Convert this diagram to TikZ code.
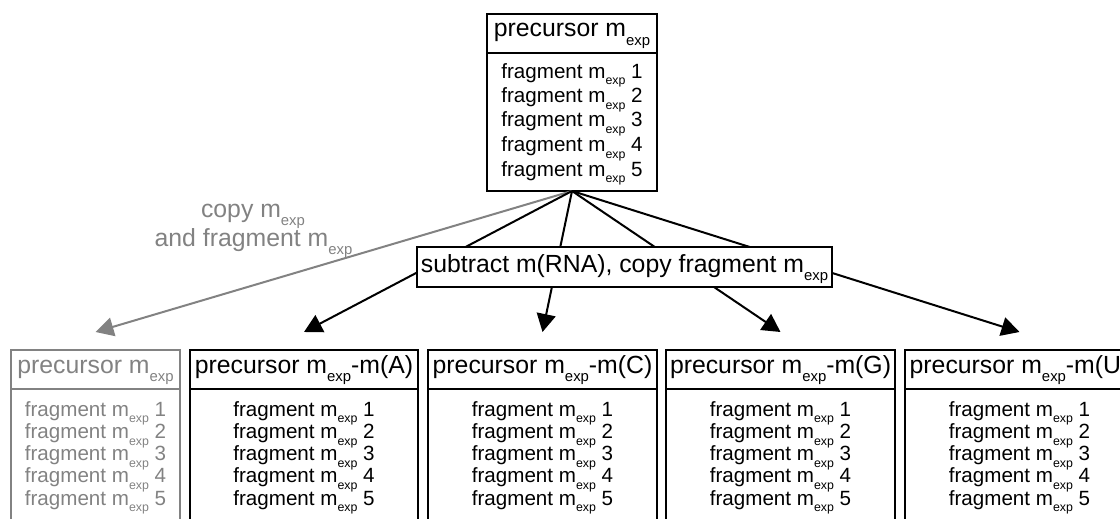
\documentclass[tikz,border=0pt]{standalone}
\usepackage{fontspec}
\setmainfont{Liberation Sans}
\usepackage{graphicx}
\usetikzlibrary{arrows.meta,calc}

\definecolor{copygrey}{RGB}{130,130,130}
% lowered, reduced "exp" index
\newcommand\expsub{\raisebox{-0.33em}{\scalebox{0.6}{exp}}}

\tikzset{
  box/.style={draw, line width=2pt, inner sep=0pt, outer sep=0pt},
  rule/.style={line width=1.5pt},
  headtext/.style={font=\fontsize{24.8}{28}\selectfont, anchor=base, inner sep=0pt},
  fragtext/.style={font=\fontsize{20.6}{24}\selectfont, anchor=base, inner sep=0pt},
  link/.style={line width=2pt, -{Triangle[length=18pt,width=19pt]}},
}

\begin{document}
\begin{tikzpicture}[x=1pt,y=-1pt]
\clip (0,0) rectangle (1120,519);
\useasboundingbox (0,0) rectangle (1120,519);

% source spectrum
\node[box, minimum width=170pt, minimum height=177pt] (top) at (572,102.5) {};
\draw[rule] ($(top.north west)+(0,39)$) -- ($(top.north east)+(0,39)$);
\node[headtext] (tophead) at (572,37) {precursor m\expsub};
\foreach \i/\y in {1/78,2/102.5,3/127,4/151.5,5/176}
  \node[fragtext] (topf\i) at (572,\y) {fragment m\expsub{} \i};

% derived spectra
\foreach \n/\cx/\w/\col/\hd in {
    P/95.5/169/copygrey/{precursor m\expsub},
    A/304/228/black/{precursor m\expsub-m(A)},
    C/542.5/229/black/{precursor m\expsub-m(C)},
    G/780.5/229/black/{precursor m\expsub-m(G)},
    U/1019.5/229/black/{precursor m\expsub-m(U)}} {
  \node[box, draw=\col, minimum width=\w pt, minimum height=190pt] (b\n) at (\cx,445) {};
  \draw[rule, \col] ($(b\n.north west)+(0,39)$) -- ($(b\n.north east)+(0,39)$);
  \node[headtext, text=\col] (h\n) at (\cx,373) {\hd};
  \foreach \i/\y in {1/416,2/438.25,3/460.5,4/482.75,5/505}
    \node[fragtext, text=\col] (f\n\i) at (\cx,\y) {fragment m\expsub{} \i};
  \coordinate (tip\n) at ($(b\n.north)+(0,-18)$);
}

% connectors
\draw[link, copygrey] (top.south) -- (tipP);
\foreach \n in {A,C,G,U}
  \draw[link] (top.south) -- (tip\n);

% operation box laid over the connectors
\node[box, fill=white, minimum width=415pt, minimum height=40pt,
      font=\fontsize{24.8}{28}\selectfont, text height=21pt, text depth=11pt]
  (sub) at (624.5,267) {subtract m(RNA), copy fragment m\expsub};

% label of the plain copy
\node[headtext, text=copygrey] (lab1) at (253,217) {copy m\expsub};
\node[headtext, text=copygrey] (lab2) at (253.5,246) {and fragment m\expsub};
\end{tikzpicture}
\end{document}
